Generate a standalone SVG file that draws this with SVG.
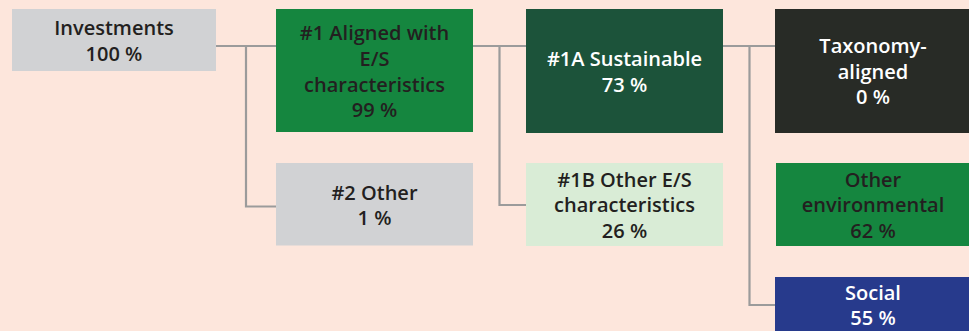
<svg xmlns="http://www.w3.org/2000/svg" width="969" height="331" viewBox="0 0 969 331">
<style>
text{font-family:"Open Sans","Noto Sans","Liberation Sans",sans-serif;font-weight:600;font-size:20px;text-anchor:middle}
.dk{fill:#231f20}
.wt{fill:#ffffff}
.ln{fill:none;stroke:#9b9b9b;stroke-width:2.2}
</style>
<rect width="969" height="331" fill="#fde6dc"/>
<g id="connectors">
<path class="ln" d="M216 46H276M246 46V206.5H276"/>
<path class="ln" d="M473 46H526M499.5 46V205H526"/>
<path class="ln" d="M723 46H775M749.5 46V305H775"/>
</g>
<g id="investments">
<rect x="12" y="9" width="204" height="62" fill="#d1d2d4"/>
<text class="dk" x="114" y="35">Investments</text>
<text class="dk" x="114" y="61">100 %</text>
</g>
<g id="aligned">
<rect x="276" y="9" width="197" height="123" fill="#15863f"/>
<text class="dk" x="374.5" y="40">#1 Aligned with</text>
<text class="dk" x="374.5" y="65.5">E/S</text>
<text class="dk" x="374.5" y="91.5">characteristics</text>
<text class="dk" x="374.5" y="117">99 %</text>
</g>
<g id="other">
<rect x="276" y="163" width="197" height="82.5" fill="#d1d2d4"/>
<text class="dk" x="374.5" y="199.5">#2 Other</text>
<text class="dk" x="374.5" y="225">1 %</text>
</g>
<g id="sustainable">
<rect x="526" y="9" width="197" height="124" fill="#1c533a"/>
<text class="wt" x="624.5" y="66">#1A Sustainable</text>
<text class="wt" x="624.5" y="91.5">73 %</text>
</g>
<g id="otheres">
<rect x="526" y="163" width="197" height="83" fill="#d9ecd6"/>
<text class="dk" x="624.5" y="186.5">#1B Other E/S</text>
<text class="dk" x="624.5" y="212">characteristics</text>
<text class="dk" x="624.5" y="237.5">26 %</text>
</g>
<g id="taxonomy">
<rect x="775" y="9" width="194" height="124" fill="#282b26"/>
<text class="wt" x="873" y="53.3">Taxonomy-</text>
<text class="wt" x="873" y="78.5">aligned</text>
<text class="wt" x="873" y="103.5">0 %</text>
</g>
<g id="otherenv">
<rect x="776" y="163" width="193" height="83" fill="#15863f"/>
<text class="dk" x="873" y="186.5">Other</text>
<text class="dk" x="873" y="212">environmental</text>
<text class="dk" x="873" y="237.5">62 %</text>
</g>
<g id="social">
<rect x="775" y="277" width="194" height="54" fill="#273a8c"/>
<text class="wt" x="873" y="299.5">Social</text>
<text class="wt" x="873" y="325">55 %</text>
</g>
</svg>
